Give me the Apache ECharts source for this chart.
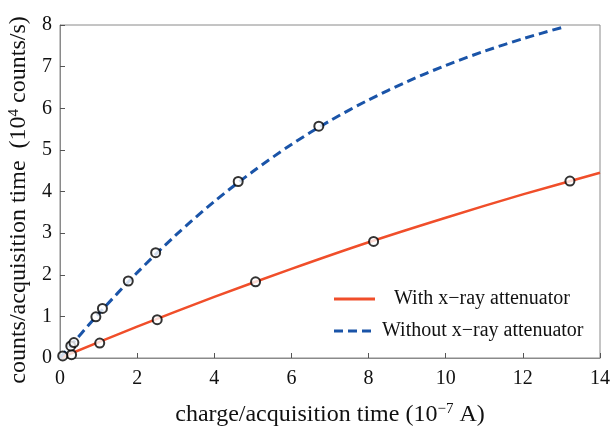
<!DOCTYPE html>
<html><head><meta charset="utf-8">
<script src="https://cdn.jsdelivr.net/npm/echarts@6/dist/echarts.min.js"></script>
<style>html,body{margin:0;padding:0;background:#fff}#c{width:613px;height:429px}</style>
</head><body><div id="c"></div>
<script>
// Measured points
const withX = [0.30, 1.03, 2.52, 5.07, 8.13, 13.22];
const withY = [0.08, 0.36, 0.92, 1.83, 2.80, 4.25];
const withoutX = [0.07, 0.28, 0.36, 0.93, 1.10, 1.77, 2.48, 4.62, 6.71];
const withoutY = [0.05, 0.29, 0.37, 0.99, 1.19, 1.85, 2.53, 4.24, 5.57];
// Fitted curves
const fitWithX = [0, 2, 4, 6, 8, 10, 12, 14];
const fitWithY = [0, 0.753, 1.467, 2.14, 2.78, 3.37, 3.93, 4.45];
const fitWithoutX = [0, 1, 2, 3, 4, 5, 6, 7, 8, 9, 10, 11, 12, 13.05];
const fitWithoutY = [0, 1.06, 2.05, 2.95, 3.76, 4.48, 5.13, 5.70, 6.20, 6.64, 7.03, 7.37, 7.67, 7.95];
const xTicks = [0, 2, 4, 6, 8, 10, 12, 14];
const yTicks = [0, 1, 2, 3, 4, 5, 6, 7, 8];
const legendNames = ['With x\u2212ray attenuator', 'Without x\u2212ray attenuator'];

const zip = (a, b) => a.map((v, i) => [v, b[i]]);
const RED = '#F04E2A', BLUE = '#1A54A8';
const FONT = '"Liberation Serif", "Times New Roman", serif';

const chart = echarts.init(document.getElementById('c'), null, {renderer: 'canvas'});
chart.setOption({
  animation: false,
  backgroundColor: '#fff',
  grid: {left: 60, right: 13, top: 25, bottom: 71, outerBoundsMode: 'none', containLabel: false,
         show: true, borderColor: '#8a8a8a', borderWidth: 1},
  xAxis: {
    type: 'value', min: xTicks[0], max: xTicks[xTicks.length - 1], interval: 2,
    axisLine: {show: true, lineStyle: {color: '#8a8a8a', width: 1}},
    axisTick: {show: true, inside: true, length: 5, lineStyle: {color: '#555'}},
    splitLine: {show: false},
    axisLabel: {color: '#111', fontFamily: FONT, fontSize: 20, margin: 11},
    name: '{t|charge/acquisition time (10}{s|\u22127}{t| A)}',
    nameLocation: 'middle', nameGap: 44,
    nameTextStyle: {rich: {
      t: {fontFamily: FONT, fontSize: 24, color: '#111'},
      s: {fontFamily: FONT, fontSize: 15, color: '#111', padding: [0, 0, 11, 0]}
    }}
  },
  yAxis: {
    type: 'value', min: yTicks[0], max: yTicks[yTicks.length - 1], interval: 1,
    axisLine: {show: true, lineStyle: {color: '#8a8a8a', width: 1}},
    axisTick: {show: true, inside: true, length: 5, lineStyle: {color: '#555'}},
    splitLine: {show: false},
    axisLabel: {color: '#111', fontFamily: FONT, fontSize: 20, margin: 8},
    name: '{t|counts/acquisition time  (10}{s|4}{t| counts/s)}',
    nameLocation: 'middle', nameGap: 25, nameRotate: 90,
    nameTextStyle: {padding: [0, 17, 0, 0], rich: {
      t: {fontFamily: FONT, fontSize: 24, color: '#111'},
      s: {fontFamily: FONT, fontSize: 15, color: '#111', padding: [0, 0, 11, 0]}
    }}
  },
  legend: [
    {data: [{name: legendNames[0], icon: 'path://M0,0h41v3h-41z'}], left: 329, top: 284,
     itemWidth: 41, itemHeight: 3, itemGap: 0,
     textStyle: {fontFamily: FONT, fontSize: 20, color: '#111', padding: [0, 0, 0, 14]}},
    {data: [{name: legendNames[1], icon: 'path://M0,0h9v3h-9zM14,0h9v3h-9zM28,0h9v3h-9z'}], left: 329, top: 316,
     itemWidth: 37, itemHeight: 3, itemGap: 0,
     textStyle: {fontFamily: FONT, fontSize: 20, color: '#111', padding: [0, 0, 0, 6]}}
  ],
  series: [
    {name: legendNames[0], type: 'line', data: zip(fitWithX, fitWithY), smooth: 0.3, symbol: 'none',
     lineStyle: {color: RED, width: 2.5}, itemStyle: {color: RED}, z: 2},
    {name: legendNames[1], type: 'line', data: zip(fitWithoutX, fitWithoutY), smooth: 0.3, symbol: 'none',
     lineStyle: {color: BLUE, width: 3, type: [9, 5]}, itemStyle: {color: BLUE}, z: 2},
    {name: 'ptsWith', type: 'scatter', data: zip(withX, withY), symbol: 'circle', symbolSize: 9,
     itemStyle: {color: '#fff', borderColor: '#000', borderWidth: 2}, z: 5},
    {name: 'ptsWithout', type: 'scatter', data: zip(withoutX, withoutY), symbol: 'circle', symbolSize: 9,
     itemStyle: {color: '#fff', borderColor: '#000', borderWidth: 2}, z: 5}
  ]
});
</script></body></html>
